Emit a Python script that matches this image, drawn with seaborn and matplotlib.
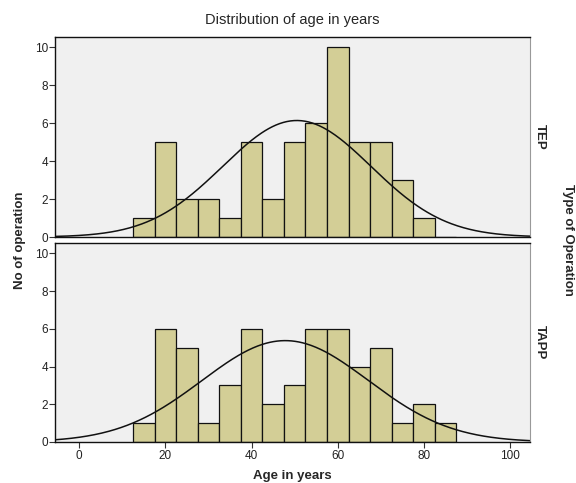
import matplotlib
matplotlib.use("Agg")
import matplotlib.pyplot as plt
import numpy as np
import pandas as pd
import seaborn as sns

# bin centres (width 5) and counts
age_bins = [15, 20, 25, 30, 35, 40, 45, 50, 55, 60, 65, 70, 75, 80, 85]
tep_counts = [1, 5, 2, 2, 1, 5, 2, 5, 6, 10, 5, 5, 3, 1, 0]
tapp_counts = [1, 6, 5, 1, 3, 6, 2, 3, 6, 6, 4, 5, 1, 2, 1]
groups = ["TEP", "TAPP"]
# fitted normal curve parameters (mean, sd) per group
curve_mean = {"TEP": 50.5, "TAPP": 47.8}
curve_sd = {"TEP": 17.2, "TAPP": 19.3}
x_ticks = [0, 20, 40, 60, 80, 100]
y_ticks = [0, 2, 4, 6, 8, 10]

df = pd.DataFrame({
    "age": age_bins * 2,
    "count": tep_counts + tapp_counts,
    "type": ["TEP"] * len(age_bins) + ["TAPP"] * len(age_bins),
})

sns.set_style("white")
plt.rcParams["font.family"] = ["Liberation Sans", "DejaVu Sans"]

fig = plt.figure(figsize=(5.76, 4.83), dpi=100)
ax_top = fig.add_axes([0.0955, 0.5093, 0.8247, 0.414])
ax_bot = fig.add_axes([0.0955, 0.0849, 0.8247, 0.412])

for ax, grp in zip([ax_top, ax_bot], groups):
    sub = df[df["type"] == grp]
    ax.set_facecolor("#f0f0f0")
    sns.histplot(data=sub, x="age", weights="count", binwidth=5,
                 binrange=(12.5, 87.5), color="#d3ce96", alpha=1,
                 edgecolor="#111111", linewidth=0.9, ax=ax)
    xs = np.linspace(-6, 106, 400)
    n = sub["count"].sum()
    mu, sd = curve_mean[grp], curve_sd[grp]
    ys = n * 5 / (sd * np.sqrt(2 * np.pi)) * np.exp(-(xs - mu) ** 2 / (2 * sd ** 2))
    sns.lineplot(x=xs, y=ys, color="#111111", linewidth=1.1, ax=ax)
    ax.set_xlim(-5.6, 104.6)
    ax.set_ylim(0, 10.55)
    ax.set_yticks(y_ticks)
    ax.set_xlabel("")
    ax.set_ylabel("")
    ax.tick_params(axis="y", direction="out", length=4, width=0.8,
                   labelsize=8.5, labelcolor="#222222", pad=1, left=True,
                   color="#333333")
    for side in ["top", "left", "bottom"]:
        ax.spines[side].set_color("#111111")
        ax.spines[side].set_linewidth(1.0)
    ax.spines["right"].set_color("#999999")
    ax.text(1.02, 0.5, grp, transform=ax.transAxes, rotation=270,
            ha="center", va="center", fontsize=9.5, fontweight="bold")

ax_top.set_xticks([])
ax_bot.set_xticks(x_ticks)
ax_bot.tick_params(axis="x", direction="out", length=4, width=0.8,
                   labelsize=8.5, labelcolor="#222222", pad=2, bottom=True,
                   color="#333333")

fig.text(0.507, 0.958, "Distribution of age in years", ha="center",
         va="center", fontsize=10.5)
fig.text(0.507, 0.015, "Age in years", ha="center", va="center",
         fontsize=9.5, fontweight="bold")
fig.text(0.035, 0.503, "No of operation", rotation=90, ha="center",
         va="center", fontsize=9.5, fontweight="bold")
fig.text(0.986, 0.503, "Type of Operation", rotation=270, ha="center",
         va="center", fontsize=9.5, fontweight="bold")

fig.savefig("out.png", dpi=100)
